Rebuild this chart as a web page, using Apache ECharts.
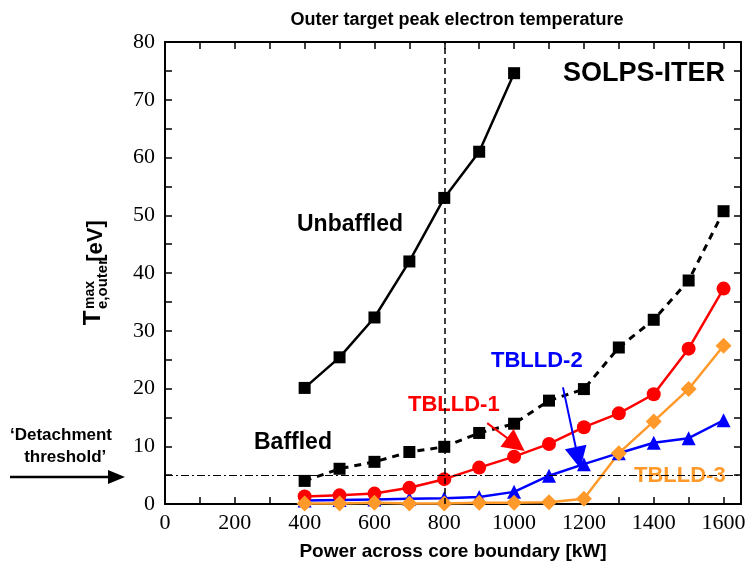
<!DOCTYPE html>
<html>
<head>
<meta charset="utf-8">
<script src="https://cdn.jsdelivr.net/npm/echarts@6/dist/echarts.min.js"></script>
<style>
  html, body { margin: 0; padding: 0; background: #fff; }
  #chart { width: 750px; height: 567px; }
</style>
</head>
<body>
<div id="chart"></div>
<script>
// data
var power = [400, 500, 600, 700, 800, 900, 1000, 1100, 1200, 1300, 1400, 1500, 1600];
var unbaffledPower = [400, 500, 600, 700, 800, 900, 1000];
var unbaffled = [20.1, 25.4, 32.3, 42.0, 53.0, 61.0, 74.6];
var baffled = [4.0, 6.1, 7.3, 9.0, 9.9, 12.3, 13.9, 17.9, 19.9, 27.1, 31.9, 38.7, 50.7];
var tblld1 = [1.3, 1.5, 1.8, 2.8, 4.3, 6.3, 8.2, 10.4, 13.3, 15.7, 19.0, 26.9, 37.3];
var tblld2 = [0.6, 0.7, 0.8, 0.9, 1.0, 1.2, 2.1, 4.9, 6.9, 8.8, 10.6, 11.4, 14.5];
var tblld3 = [0.1, 0.1, 0.2, 0.1, 0.1, 0.2, 0.2, 0.3, 0.9, 8.8, 14.3, 19.9, 27.4];
var detachThreshold = 5;
var refPower = 800;
// annotation arrows (start, end) in data units
var arrow1 = [[923, 14.0], [1005, 10.3]];
var arrow2 = [[1140, 20.2], [1183, 8.0]];

function pairs(xs, ys) {
  return xs.map(function (x, i) { return [x, ys[i]]; });
}

var myChart = echarts.init(document.getElementById('chart'));

var serif = 'Liberation Serif';
var sans = 'Liberation Sans';

var axisCommon = {
  axisLine: { show: true, onZero: false, lineStyle: { color: '#000', width: 2 } },
  axisTick: { show: true, inside: true, length: 7, lineStyle: { color: '#000', width: 1.5 } },
  minorTick: { show: true, splitNumber: 2, length: 7, lineStyle: { color: '#000', width: 1.5 } },
  splitLine: { show: false }
};

function arrowLine(color, pts) {
  return {
    silent: true, symbol: ['none', 'triangle'], symbolSize: 22, label: { show: false },
    lineStyle: { color: color, width: 2, type: 'solid' },
    data: [[{ coord: pts[0] }, { coord: pts[1] }]]
  };
}

var option = {
  animation: false,
  title: {
    text: 'Outer target peak electron temperature',
    left: 452, top: 6, textAlign: 'center',
    textStyle: { fontFamily: sans, fontSize: 18, fontWeight: 'bold', color: '#000' }
  },
  grid: { left: 165, right: 9, top: 42, bottom: 63 },
  xAxis: [
    Object.assign({
      type: 'value', min: 0, max: 1650, interval: 200,
      name: 'Power across core boundary [kW]',
      nameLocation: 'middle', nameGap: 38,
      nameTextStyle: { fontFamily: sans, fontSize: 19, fontWeight: 'bold', color: '#000' },
      axisLabel: {
        fontFamily: serif, fontSize: 22, color: '#000', margin: 8,
        formatter: function (v) { return v <= 1600 ? v : ''; }
      }
    }, axisCommon),
    Object.assign({
      type: 'value', min: 0, max: 1650, interval: 200, position: 'top',
      axisLabel: { show: false }
    }, axisCommon)
  ],
  yAxis: [
    Object.assign({
      type: 'value', min: 0, max: 80, interval: 10,
      axisLabel: { fontFamily: serif, fontSize: 22, color: '#000', margin: 10 }
    }, axisCommon),
    Object.assign({
      type: 'value', min: 0, max: 80, interval: 10, position: 'right',
      axisLabel: { show: false }
    }, axisCommon)
  ],
  series: [
    {
      name: 'Unbaffled', type: 'line', data: pairs(unbaffledPower, unbaffled),
      symbol: 'rect', symbolSize: 12,
      lineStyle: { color: '#000', width: 2.5 }, itemStyle: { color: '#000' },
      markLine: {
        silent: true, symbol: 'none', label: { show: false },
        lineStyle: { color: '#000', width: 1.5, type: [6, 4] },
        data: [{ xAxis: refPower }]
      }
    },
    {
      name: 'Baffled', type: 'line', data: pairs(power, baffled),
      symbol: 'rect', symbolSize: 12,
      lineStyle: { color: '#000', width: 3, type: [7, 6] }, itemStyle: { color: '#000' },
      markLine: {
        silent: true, symbol: 'none', label: { show: false },
        lineStyle: { color: '#000', width: 1.2, type: [8, 3, 2, 3] },
        data: [{ yAxis: detachThreshold }]
      }
    },
    {
      name: 'TBLLD-2', type: 'line', data: pairs(power, tblld2),
      symbol: 'triangle', symbolSize: 14,
      lineStyle: { color: '#0000ff', width: 2.5 }, itemStyle: { color: '#0000ff' },
      markLine: arrowLine('#0000ff', arrow2)
    },
    {
      name: 'TBLLD-1', type: 'line', data: pairs(power, tblld1),
      symbol: 'circle', symbolSize: 14,
      lineStyle: { color: '#ff0000', width: 2.5 }, itemStyle: { color: '#ff0000' },
      markLine: arrowLine('#ff0000', arrow1)
    },
    {
      name: 'TBLLD-3', type: 'line', data: pairs(power, tblld3),
      symbol: 'diamond', symbolSize: 16,
      lineStyle: { color: '#ff9a2a', width: 2.5 }, itemStyle: { color: '#ff9a2a' }
    }
  ],
  graphic: [
    { type: 'text', left: 563, top: 60, style: { text: 'SOLPS-ITER', font: 'bold 27px Liberation Sans', fill: '#000' } },
    { type: 'text', left: 297, top: 213, style: { text: 'Unbaffled', font: 'bold 23px Liberation Sans', fill: '#000' } },
    { type: 'text', left: 254, top: 431, style: { text: 'Baffled', font: 'bold 23px Liberation Sans', fill: '#000' } },
    { type: 'text', left: 408, top: 394, style: { text: 'TBLLD-1', font: 'bold 22px Liberation Sans', fill: '#ff0000' } },
    { type: 'text', left: 491, top: 350, style: { text: 'TBLLD-2', font: 'bold 22px Liberation Sans', fill: '#0000ff' } },
    { type: 'text', left: 634, top: 465, style: { text: 'TBLLD-3', font: 'bold 22px Liberation Sans', fill: '#ff9a2a' } },
    { type: 'text', left: 10, top: 424, style: { text: '\u2018Detachment\n   threshold\u2019', font: 'bold 17px Liberation Sans', fill: '#000', lineHeight: 22 } },
    { type: 'line', shape: { x1: 10, y1: 477, x2: 112, y2: 477 }, style: { stroke: '#000', lineWidth: 2.5 } },
    { type: 'polygon', shape: { points: [[108, 470], [125, 477], [108, 484]] }, style: { fill: '#000' } },
    // rotated y-axis title (centres)
    { type: 'text', x: 93, y: 318, rotation: Math.PI / 2, style: { text: 'T', font: 'bold 24px Liberation Sans', fill: '#000', align: 'center', verticalAlign: 'middle' } },
    { type: 'text', x: 90, y: 295, rotation: Math.PI / 2, style: { text: 'max', font: 'bold 14px Liberation Sans', fill: '#000', align: 'center', verticalAlign: 'middle' } },
    { type: 'text', x: 103, y: 284, rotation: Math.PI / 2, style: { text: 'e,outer', font: 'bold 15px Liberation Sans', fill: '#000', align: 'center', verticalAlign: 'middle' } },
    { type: 'text', x: 96, y: 241, rotation: Math.PI / 2, style: { text: '[eV]', font: 'bold 22px Liberation Sans', fill: '#000', align: 'center', verticalAlign: 'middle' } }
  ]
};

myChart.setOption(option);
</script>
</body>
</html>
